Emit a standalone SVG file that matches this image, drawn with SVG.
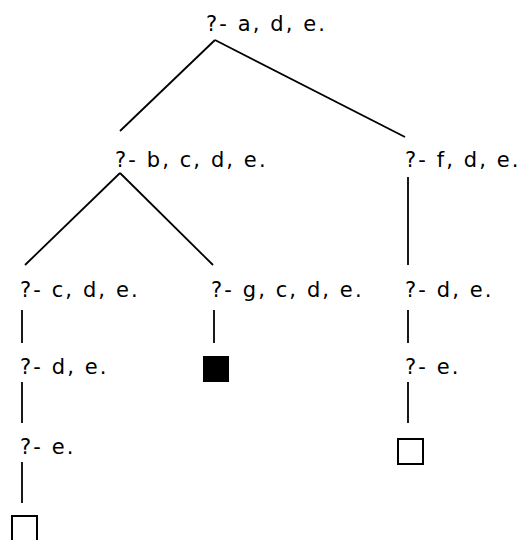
<svg xmlns="http://www.w3.org/2000/svg" width="524" height="540" viewBox="0 0 524 540">
<style>
text{font-family:"DejaVu Sans","Liberation Sans",sans-serif;font-size:21px;letter-spacing:2.1px;fill:#000}
.e{stroke:#000;stroke-width:1.8;fill:none}
.box{stroke:#000;stroke-width:2;fill:#fff}
</style>
<rect width="524" height="540" fill="#fff"/>
<g id="connectors">
<line class="e" x1="215" y1="40" x2="120" y2="131"/>
<line class="e" x1="215" y1="40" x2="405" y2="137"/>
<line class="e" x1="120" y1="173" x2="25" y2="265"/>
<line class="e" x1="120" y1="173" x2="213" y2="265"/>
<line class="e" x1="408" y1="177" x2="408" y2="265"/>
<line class="e" x1="22" y1="310" x2="22" y2="343"/>
<line class="e" x1="214" y1="310" x2="214" y2="343"/>
<line class="e" x1="408" y1="310" x2="408" y2="343"/>
<line class="e" x1="22" y1="382" x2="22" y2="423"/>
<line class="e" x1="408" y1="382" x2="408" y2="423"/>
<line class="e" x1="22" y1="462" x2="22" y2="503"/>
</g>
<g id="n1"><text x="206" y="31">?- a, d, e.</text></g>
<g id="n2"><text x="115" y="167">?- b, c, d, e.</text></g>
<g id="n3"><text x="405" y="167">?- f, d, e.</text></g>
<g id="n4"><text x="20" y="297">?- c, d, e.</text></g>
<g id="n5"><text x="211" y="297">?- g, c, d, e.</text></g>
<g id="n6"><text x="405" y="297">?- d, e.</text></g>
<g id="n7"><text x="20" y="374">?- d, e.</text></g>
<g id="n8"><rect x="203" y="356" width="26" height="26" fill="#000"/></g>
<g id="n9"><text x="405" y="374">?- e.</text></g>
<g id="n10"><text x="20" y="454">?- e.</text></g>
<g id="n11"><rect class="box" x="398" y="439" width="25" height="25"/></g>
<g id="n12"><rect class="box" x="12" y="516" width="25" height="25"/></g>
</svg>
